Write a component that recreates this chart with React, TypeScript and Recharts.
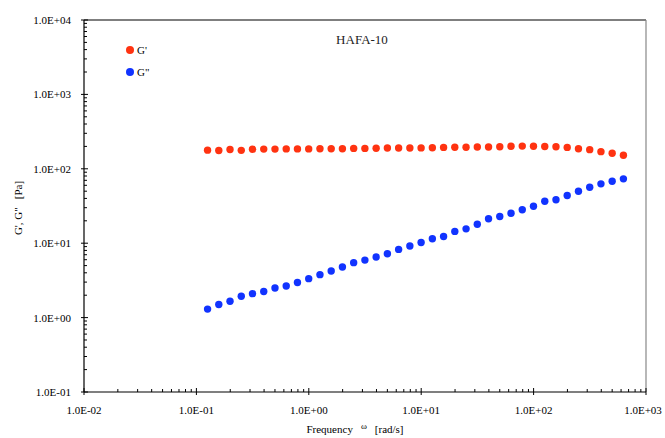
import React from "react";
import {
  Label,
  Legend,
  ReferenceLine,
  Scatter,
  ScatterChart,
  XAxis,
  YAxis,
} from "recharts";

// angular frequency [rad/s], 10 points per decade
const frequency = [
  0.1257, 0.1582, 0.1991, 0.2507, 0.3156, 0.3973, 0.5002, 0.6297, 0.7927,
  0.998, 1.2566, 1.582, 1.991, 2.507, 3.156, 3.973, 5.002, 6.297, 7.927, 9.98,
  12.57, 15.82, 19.91, 25.07, 31.56, 39.73, 50.02, 62.97, 79.27, 99.8, 125.7,
  158.2, 199.1, 250.7, 315.6, 397.3, 500.2, 629.7,
];

// storage modulus G' [Pa]
const storageModulus = [
  178, 176, 182, 177, 183, 184, 184, 185, 185, 185, 186, 186, 186, 188, 188,
  189, 190, 190, 190, 191, 192, 194, 195, 195, 196, 196, 198, 201, 202, 201,
  199, 198, 194, 186, 181, 170, 162, 152,
];

// loss modulus G'' [Pa]
const lossModulus = [
  1.3, 1.5, 1.66, 1.94, 2.1, 2.24, 2.5, 2.66, 2.96, 3.34, 3.78, 4.23, 4.78,
  5.48, 5.93, 6.51, 7.23, 8.26, 9.15, 10.2, 11.5, 12.3, 14.4, 15.6, 18.0, 21.3,
  22.9, 25.3, 28.1, 31.4, 36.6, 38.3, 43.7, 49.9, 56.5, 62.8, 67.9, 73.3,
];

const xMajorTicks = [0.01, 0.1, 1, 10, 100, 1000];
const xTickLabels = ["1.0E-02", "1.0E-01", "1.0E+00", "1.0E+01", "1.0E+02", "1.0E+03"];
const yMajorTicks = [0.1, 1, 10, 100, 1000, 10000];
const yTickLabels = ["1.0E-01", "1.0E+00", "1.0E+01", "1.0E+02", "1.0E+03", "1.0E+04"];

const RED = "#ff3311";
const BLUE = "#1133ff";
const FONT = "'Liberation Serif', 'Times New Roman', serif";

const withMinors = (majors: number[]) => {
  const out: number[] = [];
  majors.forEach((m, i) => {
    out.push(m);
    if (i < majors.length - 1) {
      for (let k = 2; k <= 9; k++) out.push(+(m * k).toPrecision(6));
    }
  });
  return out;
};

const xTicks = withMinors(xMajorTicks);
const yTicks = withMinors(yMajorTicks);

const gPrimeData = frequency.map((f, i) => ({ x: f, y: storageModulus[i] }));
const gDoublePrimeData = frequency.map((f, i) => ({ x: f, y: lossModulus[i] }));

const XTick = (props: any) => {
  const { x, y, payload } = props;
  const i = xMajorTicks.indexOf(payload.value);
  if (i < 0) {
    return <line x1={x} x2={x} y1={y} y2={y - 3} stroke="#000" />;
  }
  return (
    <g>
      <line x1={x} x2={x} y1={y - 4} y2={y + 3} stroke="#000" />
      <text
        x={i === xMajorTicks.length - 1 ? x - 3 : x}
        y={y + 22}
        textAnchor="middle"
        fontSize={11}
        fontFamily={FONT}
        fill="#000"
      >
        {xTickLabels[i]}
      </text>
    </g>
  );
};

const YTick = (props: any) => {
  const { x, y, payload } = props;
  const i = yMajorTicks.indexOf(payload.value);
  if (i < 0) {
    return <line x1={x} x2={x + 3} y1={y} y2={y} stroke="#000" />;
  }
  return (
    <g>
      <line x1={x - 3} x2={x + 4} y1={y} y2={y} stroke="#000" />
      <text
        x={x - 13}
        y={y + 4}
        textAnchor="end"
        fontSize={11}
        fontFamily={FONT}
        fill="#000"
      >
        {yTickLabels[i]}
      </text>
    </g>
  );
};

const Dot = (color: string) => (props: any) =>
  <circle cx={props.cx} cy={props.cy} r={3.7} fill={color} />;

const XTitle = (props: any) => {
  const { viewBox } = props;
  const cx = viewBox.x + viewBox.width / 2 - 10;
  const y = viewBox.y + 41;
  return (
    <text x={cx} y={y} textAnchor="middle" fontFamily={FONT} fontSize={11} fill="#000">
      Frequency
      <tspan fontSize={9} dx={8} dy={-4}>{"\u03C9"}</tspan>
      <tspan dx={8} dy={4}>{"[rad/s]"}</tspan>
    </text>
  );
};

const YTitle = (props: any) => {
  const { viewBox } = props;
  const x = viewBox.x + 22;
  const cy = viewBox.y + viewBox.height / 2 + 2;
  return (
    <text
      x={x}
      y={cy}
      transform={`rotate(-90 ${x} ${cy})`}
      textAnchor="middle"
      fontFamily={FONT}
      fontSize={11}
      fill="#000"
    >
      {"G', G\""}
      <tspan dx={8}>{"[Pa]"}</tspan>
    </text>
  );
};

const LegendBox = () => (
  <div style={{ fontFamily: FONT, fontSize: 11, lineHeight: "22px" }}>
    {[
      { name: "G'", color: RED },
      { name: 'G"', color: BLUE },
    ].map((s) => (
      <div key={s.name} style={{ display: "flex", alignItems: "center" }}>
        <span
          style={{
            width: 8,
            height: 8,
            borderRadius: 4,
            background: s.color,
            display: "inline-block",
            marginRight: 3,
          }}
        />
        {s.name}
      </div>
    ))}
  </div>
);

export default function App() {
  return (
    <div style={{ position: "absolute", left: 0, top: 0, width: 665, height: 438, background: "#fff" }}>
      <ScatterChart
        width={665}
        height={438}
        margin={{ top: 20, right: 19, bottom: 0, left: 0 }}
      >
        <XAxis
          type="number"
          dataKey="x"
          scale="log"
          domain={[0.01, 1000]}
          ticks={xTicks}
          interval={0}
          allowDataOverflow
          height={46}
          tickSize={0}
          tickMargin={0}
          tickLine={false}
          tick={<XTick />}
          axisLine={{ stroke: "#000", strokeWidth: 1.2 }}
        >
          <Label content={<XTitle />} />
        </XAxis>
        <YAxis
          type="number"
          dataKey="y"
          scale="log"
          domain={[0.1, 10000]}
          ticks={yTicks}
          interval={0}
          allowDataOverflow
          width={84}
          tickSize={0}
          tickMargin={0}
          tickLine={false}
          tick={<YTick />}
          axisLine={{ stroke: "#000", strokeWidth: 1.2 }}
        >
          <Label content={<YTitle />} />
        </YAxis>
        <ReferenceLine y={10000} stroke="#000" strokeWidth={1.2} ifOverflow="extendDomain" />
        <ReferenceLine x={1000} stroke="#888" strokeWidth={1.2} ifOverflow="extendDomain" />
        <Legend
          layout="vertical"
          align="center"
          verticalAlign="middle"
          content={<LegendBox />}
          wrapperStyle={{ position: "absolute", left: 126, top: 39, width: 60 }}
        />
        <Scatter
          name="G'"
          data={gPrimeData}
          fill={RED}
          shape={Dot(RED)}
          isAnimationActive={false}
        />
        <Scatter
          name={'G"'}
          data={gDoublePrimeData}
          fill={BLUE}
          shape={Dot(BLUE)}
          isAnimationActive={false}
        />
      </ScatterChart>
      <div
        style={{
          position: "absolute",
          left: 312,
          top: 32,
          width: 100,
          textAlign: "center",
          fontFamily: FONT,
          fontSize: 13,
          color: "#222",
        }}
      >
        HAFA-10
      </div>
    </div>
  );
}
